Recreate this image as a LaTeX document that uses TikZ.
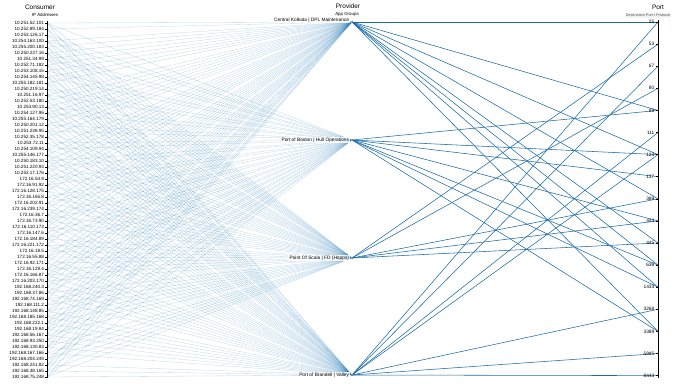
\documentclass[tikz,border=0pt]{standalone}
\usepackage{fontspec}
\setmainfont{Liberation Sans}
\usetikzlibrary{positioning,backgrounds}

\definecolor{linkblue}{HTML}{1F77B4}
\definecolor{portblue}{HTML}{1A6BA8}

\tikzset{
  axisline/.style={black, line width=0.9pt},
  tickline/.style={black, line width=0.5pt},
  iplabel/.style={anchor=east, inner sep=0.3pt, font=\fontsize{4.6}{5}\selectfont},
  portlabel/.style={anchor=east, inner sep=0.5pt, font=\fontsize{4.8}{5}\selectfont},
  provlabel/.style={inner sep=0.6pt, fill=white, fill opacity=0.85, text opacity=1, font=\fontsize{4.8}{5}\selectfont},
  provdot/.style={circle, fill=portblue!80!black, inner sep=0pt, minimum size=2pt},
  coltitle/.style={inner sep=0pt, font=\fontsize{6.5}{7}\selectfont},
  colsub/.style={inner sep=0pt, font=\fontsize{4.4}{5}\selectfont},
  portsub/.style={inner sep=0.8pt, rounded corners=1pt, fill=gray!12, text=gray!70!black, font=\fontsize{3.8}{4}\selectfont},
  conslink/.style={linkblue, opacity=0.3, line width=0.3pt},
  portlink/.style={portblue, line width=0.55pt}
}

\begin{document}
\begin{tikzpicture}[x=1pt,y=-1pt]
  \useasboundingbox (0,0) rectangle (680,383);

  % column titles
  \node[coltitle] (constitle) at (40,7) {Consumer};
  \node[colsub] (conssub) at (45,15) {IP Addresses};
  \node[coltitle] (provtitle) at (348,6) {Provider};
  \node[colsub] (provsub) at (347,14) {App Groups};
  \node[coltitle] (porttitle) at (658,7) {Port};
  \node[portsub] (portsubl) at (648,15.5) {Destination Port / Protocol};

  % consumer axis
  \draw[axisline] (47,21) -- (47,378);
  \foreach \i in {1,...,60}{
    \pgfmathsetmacro{\yy}{23+(\i-1)*6.0}
    \pgfmathtruncatemacro{\oa}{mod(\i*37+5,240)+10}
    \pgfmathtruncatemacro{\ob}{mod(\i*83+17,250)+1}
    \pgfmathtruncatemacro{\oc}{250+mod(\i*7,6)}
    \coordinate (ip\i) at (47,\yy);
    \ifnum\i<27 \def\ipaddr{10.\oc.\oa.\ob}\else\ifnum\i<45 \def\ipaddr{172.16.\oa.\ob}\else\def\ipaddr{192.168.\oa.\ob}\fi\fi
    \draw[tickline] (ip\i) -- ++(-2,0);
    \node[iplabel] (ipl\i) at ([xshift=-2.5pt]ip\i) {\ipaddr};
  }

  % providers
  \node[provdot] (p1) at (352,22) {};
  \node[provdot] (p2) at (352,140) {};
  \node[provdot] (p3) at (352,258) {};
  \node[provdot] (p4) at (352,375) {};
  \node[provlabel, left=1pt of p1, yshift=1.5pt] (p1lbl) {Central Kolkata | DPL Maintenance};
  \node[provlabel, left=1pt of p2] (p2lbl) {Port of Boston | Hull Operations};
  \node[provlabel, left=1pt of p3] (p3lbl) {Point Of Scala | FD (Hopps)};
  \node[provlabel, left=1pt of p4] (p4lbl) {Port of Brandell | Valley};

  % port axis
  \draw[axisline] (658,20) -- (658,378);
  \foreach \k/\lbl in {1/25,2/53,3/67,4/80,5/88,6/111,7/123,8/137,9/389,
                       10/443,11/445,12/636,13/1433,14/3268,15/3389,16/5985,17/8443}{
    \pgfmathsetmacro{\yy}{22+(\k-1)*22.1}
    \coordinate (t\k) at (658,\yy);
    \draw[tickline] (t\k) -- ++(-2.5,0);
    \node[portlabel] (tl\k) at ([xshift=-3pt]t\k) {\lbl};
  }

  % connections
  \begin{pgfonlayer}{background}
    \foreach \i in {1,...,60}
      \foreach \k in {1,...,4}{
        \pgfmathtruncatemacro{\keep}{mod(\i*\k*7+\i+3*\k,9)}
        \ifnum\keep>0 \draw[conslink] (ip\i) -- (p\k);\fi
      }
    \foreach \p/\t in {p1/1,p1/5,p1/7,p1/9,p1/11,p1/12,p1/13,p1/15,
                       p2/5,p2/7,p2/8,p2/10,p2/12,p2/13,p2/15,
                       p3/2,p3/4,p3/9,p3/10,p3/11,
                       p4/1,p4/3,p4/6,p4/7,p4/14,p4/16,p4/17}
      \draw[portlink] (\p) -- (t\t);
  \end{pgfonlayer}
\end{tikzpicture}
\end{document}
